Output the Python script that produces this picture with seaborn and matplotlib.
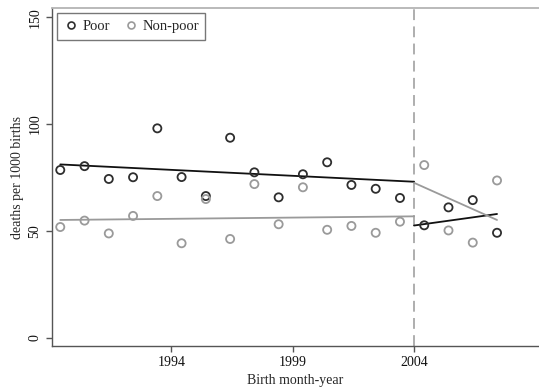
import matplotlib
matplotlib.use("Agg")
import matplotlib.pyplot as plt
import seaborn as sns
import pandas as pd
from matplotlib.lines import Line2D

# Birth cohort midpoints (decimal years)
birth_period = [1989.42, 1990.42, 1991.42, 1992.42, 1993.42, 1994.42, 1995.42,
                1996.42, 1997.42, 1998.42, 1999.42, 2000.42, 2001.42, 2002.42,
                2003.42, 2004.42, 2005.42, 2006.42, 2007.42]

# Infant deaths per 1000 births
poor_rate = [78.5, 80.3, 74.3, 75.1, 98.0, 75.2, 66.3, 93.6, 77.4, 65.7,
             76.5, 82.1, 71.5, 69.7, 65.4, 52.6, 61.0, 64.4, 49.1]
nonpoor_rate = [51.8, 54.8, 48.8, 57.0, 66.3, 44.2, 64.9, 46.2, 71.9, 53.1,
                70.4, 50.5, 52.3, 49.1, 54.3, 80.8, 50.2, 44.5, 73.6]

# Linear trends before and after the 2004 reform
cutoff = 2004.0
trend_x_pre = [1989.42, 2004.0]
trend_x_post = [2004.0, 2007.42]
poor_trend_pre = [81.1, 73.0]
poor_trend_post = [52.5, 57.9]
nonpoor_trend_pre = [55.1, 56.8]
nonpoor_trend_post = [72.5, 55.1]

x_ticks = [1994, 1999, 2004]
y_ticks = [0, 50, 100, 150]

groups = ["Poor", "Non-poor"]
dark = "#2e2e2e"
light = "#9a9a9a"

sns.set_theme(style="white")
plt.rcParams["font.family"] = ["Liberation Serif", "DejaVu Serif"]

points = pd.concat([
    pd.DataFrame({"period": birth_period, "rate": poor_rate, "group": groups[0]}),
    pd.DataFrame({"period": birth_period, "rate": nonpoor_rate, "group": groups[1]}),
])

trends = pd.concat([
    pd.DataFrame({"period": trend_x_pre, "rate": poor_trend_pre, "seg": "poor_pre"}),
    pd.DataFrame({"period": trend_x_post, "rate": poor_trend_post, "seg": "poor_post"}),
    pd.DataFrame({"period": trend_x_pre, "rate": nonpoor_trend_pre, "seg": "nonpoor_pre"}),
    pd.DataFrame({"period": trend_x_post, "rate": nonpoor_trend_post, "seg": "nonpoor_post"}),
])
seg_colors = {"poor_pre": "#111111", "poor_post": "#111111",
              "nonpoor_pre": light, "nonpoor_post": light}

fig = plt.figure(figsize=(5.39, 3.91), dpi=100)
ax = fig.add_axes([0.0965, 0.1151, 0.9035, 0.8637])

ax.axvline(cutoff, color="#a8a8a8", lw=1.3, dashes=(6, 3.5), zorder=1)

sns.lineplot(data=trends, x="period", y="rate", hue="seg", palette=seg_colors,
             units="seg", estimator=None, lw=1.3, legend=False, ax=ax, zorder=2)

sns.scatterplot(data=points, x="period", y="rate", hue="group",
                palette={groups[0]: dark, groups[1]: light},
                s=34, linewidth=1.3, legend=False, ax=ax, zorder=3)
# hollow markers: edge colour follows the group
pts = ax.collections[-1]
pts.set_edgecolors([dark if g == groups[0] else light for g in points["group"]])
pts.set_facecolors("none")

ax.set_xlim(1989.08, 2009.15)
ax.set_ylim(-3.9, 154.2)
ax.set_xticks(x_ticks)
ax.set_yticks(y_ticks)
ax.set_xticklabels([str(t) for t in x_ticks], fontsize=10)
ax.set_yticklabels([str(t) for t in y_ticks], fontsize=10, rotation=90, va="center")
ax.tick_params(axis="both", direction="out", length=4.5, width=1, color="#555555",
               labelcolor="#111111", pad=3)
ax.tick_params(axis="x", bottom=True)
ax.tick_params(axis="y", left=True)

ax.set_xlabel("Birth month-year", fontsize=10, labelpad=3)
ax.set_ylabel("deaths per 1000 births", fontsize=10, labelpad=3)

for side in ["left", "bottom"]:
    ax.spines[side].set_color("#555555")
    ax.spines[side].set_linewidth(1.0)
ax.spines["top"].set_color("#b4b4b4")
ax.spines["top"].set_linewidth(1.3)
ax.spines["right"].set_visible(False)

handles = [Line2D([], [], ls="none", marker="o", mfc="none", mec=dark, mew=1.2, ms=5),
           Line2D([], [], ls="none", marker="o", mfc="none", mec=light, mew=1.2, ms=5)]
leg = ax.legend(handles, groups, loc="upper left", ncol=2, fontsize=10.5,
                frameon=True, fancybox=False, borderpad=0.45, handletextpad=0.3,
                columnspacing=0.9, handlelength=1.0, borderaxespad=0.35)
leg.get_frame().set_edgecolor("#555555")
leg.get_frame().set_linewidth(1.0)

fig.savefig("out.png", dpi=100)
